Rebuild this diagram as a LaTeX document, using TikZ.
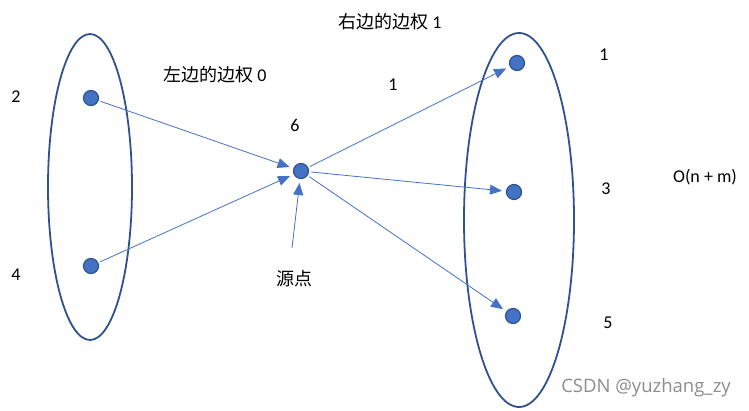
\documentclass[tikz,border=0pt]{standalone}
\usepackage{fontspec}
\setmainfont{Carlito}
\newfontfamily\cjk{Noto Sans CJK SC}
\newfontfamily\wmfont{Open Sans}
\usetikzlibrary{arrows.meta}
\definecolor{nodefill}{HTML}{4472C4}
\definecolor{nodeline}{HTML}{2F528F}
\begin{document}
\begin{tikzpicture}[x=1pt,y=-1pt,
  vtx/.style={circle,fill=nodefill,draw=nodeline,line width=1.2pt,minimum size=15pt,inner sep=0pt},
  setell/.style={draw=nodeline,line width=1.8pt},
  edge/.style={draw=nodefill,line width=0.8pt,-{Triangle[length=12pt,width=10pt]},shorten >=4pt,shorten <=2pt},
  lbl/.style={font=\fontsize{18pt}{20pt}\selectfont,text=black,inner sep=0pt},
  clbl/.style={font=\cjk\fontsize{18pt}{20pt}\selectfont,text=black,inner sep=0pt}]
\useasboundingbox (0,0) rectangle (749,410);
\draw[setell] (90,187) ellipse [x radius=42,y radius=153];
\draw[setell] (519,220) ellipse [x radius=55,y radius=187];
\node[vtx] (l1) at (91,98) {};
\node[vtx] (l2) at (91,266) {};
\node[vtx] (c) at (301,171) {};
\node[vtx] (r1) at (517,63) {};
\node[vtx] (r2) at (514,192) {};
\node[vtx] (r3) at (513,316) {};
\coordinate (src) at (292,248);
\draw[edge] (l1) -- (c);
\draw[edge] (l2) -- (c);
\draw[edge] (c) -- (r1);
\draw[edge] (c) -- (r2);
\draw[edge] (c) -- (r3);
\draw[edge,shorten <=0pt] (src) -- (c);
\node[lbl] (t2) at (16,97) {2};
\node[lbl] (t4) at (16,275) {4};
\node[clbl] (tl) at (215,75) {左边的边权 {\rmfamily 0}};
\node[lbl] (t6) at (295,125) {6};
\node[lbl] (t1a) at (393,85) {1};
\node[clbl] (tr) at (390,22) {右边的边权 {\rmfamily 1}};
\node[lbl] (t1) at (604,55) {1};
\node[lbl] (t3) at (606,189) {3};
\node[lbl] (t5) at (608,323) {5};
\node[lbl] (to) at (705,177) {O(n + m)};
\node[clbl] (ty) at (294,279) {源点};
\node[font=\wmfont\fontsize{18.5pt}{20pt}\selectfont,text=black!45,inner sep=0pt] (wm) at (646,388) {CSDN @yuzhang\_zy};
\end{tikzpicture}
\end{document}
